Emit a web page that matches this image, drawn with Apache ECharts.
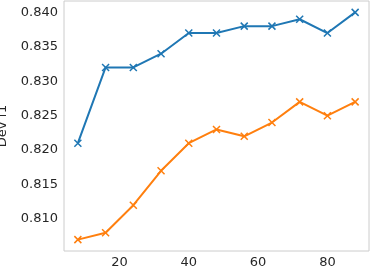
<!DOCTYPE html>
<html><head><meta charset="utf-8">
<script src="https://cdn.jsdelivr.net/npm/echarts@6/dist/echarts.min.js"></script>
<style>html,body{margin:0;padding:0;background:#fff}#c{width:370px;height:270px}</style>
</head><body><div id="c"></div>
<script>
const xValues = [8, 16, 24, 32, 40, 48, 56, 64, 72, 80, 88];
const blueValues = [0.821, 0.832, 0.832, 0.834, 0.837, 0.837, 0.838, 0.838, 0.839, 0.837, 0.840];
const orangeValues = [0.807, 0.808, 0.812, 0.817, 0.821, 0.823, 0.822, 0.824, 0.827, 0.825, 0.827];
const xTicks = [20, 40, 60, 80];
const yTicks = [0.810, 0.815, 0.820, 0.825, 0.830, 0.835, 0.840];

const chart = echarts.init(document.getElementById('c'), null, {renderer: 'canvas'});
const xSym = 'path://M0 0L10 10M10 0L0 10';
function mk(vals, color) {
  return {
    type: 'line', data: xValues.map((x, i) => [x, vals[i]]),
    symbol: xSym, symbolSize: 7,
    lineStyle: {color: color, width: 2},
    itemStyle: {color: color, borderColor: color, borderWidth: 1.5},
    animation: false
  };
}
chart.setOption({
  animation: false,
  grid: {left: 64, right: 1, top: 1, bottom: 19, containLabel: false, outerBoundsMode: 'none',
    show: true, borderColor: '#cccccc', borderWidth: 1},
  xAxis: {
    type: 'value', min: 4, max: 92,
    axisLine: {show: false}, axisTick: {show: false}, splitLine: {show: false},
    axisLabel: {customValues: xTicks, color: '#262626', fontSize: 13, fontFamily: 'DejaVu Sans', margin: 5}
  },
  yAxis: {
    type: 'value', min: 0.80535, max: 0.84165,
    name: 'Dev f1', nameLocation: 'middle', nameGap: 55,
    nameTextStyle: {color: '#262626', fontSize: 13, fontFamily: 'DejaVu Sans'},
    axisLine: {show: false}, axisTick: {show: false}, splitLine: {show: false},
    axisLabel: {customValues: yTicks, color: '#262626', fontSize: 13, fontFamily: 'DejaVu Sans', margin: 6,
      formatter: v => v.toFixed(3)}
  },
  series: [mk(blueValues, '#1f77b4'), mk(orangeValues, '#ff7f0e')]
});
</script></body></html>
